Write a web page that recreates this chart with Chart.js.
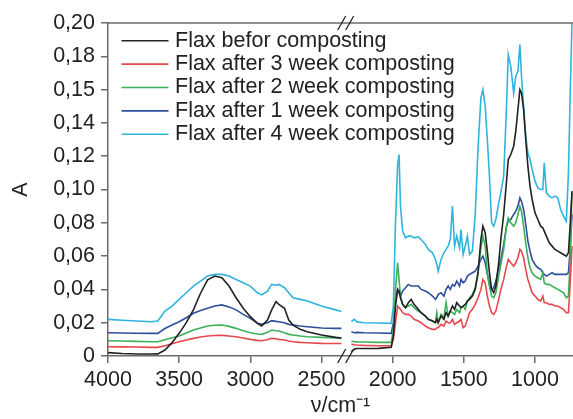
<!DOCTYPE html>
<html>
<head>
<meta charset="utf-8">
<script src="https://cdn.jsdelivr.net/npm/chart.js@4/dist/chart.umd.min.js"></script>
<style>
  body { margin: 0; background: #fff; }
</style>
</head>
<body>
<canvas id="chart1" width="573" height="419"></canvas>
<script>
// wavenumbers (cm-1), null point at 2330 is the axis break
const wavenumbers = [
    4000, 3900, 3800, 3700, 3650, 3600, 3550, 3500, 3450, 3400, 3350, 3300, 3250, 3200, 3150, 3100,
    3050, 3000, 2950, 2920, 2880, 2850, 2820, 2800, 2760, 2730, 2700, 2650, 2600, 2500, 2400, 2360,
    2330,
    2290, 2270, 2250, 2200, 2100, 2010,
    1995, 1980, 1965, 1955, 1945, 1930, 1910, 1890, 1870, 1850, 1820, 1800, 1770, 1750, 1720, 1700,
    1690, 1680, 1660, 1640, 1625, 1610, 1595, 1580, 1565, 1550, 1530, 1520, 1505, 1490, 1475, 1460,
    1440, 1420, 1400, 1380, 1366, 1350, 1335, 1320, 1305, 1290, 1275, 1255, 1240, 1220, 1200, 1188,
    1170, 1150, 1135, 1120, 1106, 1095, 1080, 1065, 1050, 1035, 1020, 1000, 980, 960, 945, 935,
    920, 900, 880, 860, 840, 820, 800, 780, 765, 752, 740
];

const before = [
    .002, .0015, .0012, .0012, .0013, .0036, .008, .0136, .020, .0277, .0377, .0457, .048, .047, .042, .035,
    .0287, .0236, .0196, .018, .0216, .0277, .0327, .031, .0287, .0216, .0186, .016, .0146, .0126, .0112, .0108,
    null,
    .0026, .004, .0045, .0045, .0046, .0052,
    .012, .030, .040, .039, .035, .031, .029, .032, .034, .031, .028, .026, .024, .022, .021, .020,
    .022, .020, .024, .022, .026, .024, .027, .030, .028, .032, .030, .029, .030, .031, .033, .034,
    .036, .040, .050, .070, .078, .074, .063, .050, .040, .038, .042, .056, .070, .085, .105, .118,
    .121, .126, .135, .148, .160, .158, .148, .130, .114, .102, .094, .086, .082, .078, .077, .075,
    .072, .068, .066, .064, .063, .062, .061, .060, .062, .080, .099
];

const week3 = [
    .0056, .0055, .0054, .0052, .0052, .0062, .0074, .0086, .0096, .0106, .0114, .012, .0123, .0124, .012, .0116,
    .0108, .010, .0094, .0092, .0098, .0106, .0104, .010, .0096, .009, .0086, .0082, .008, .0076, .0075, .0075,
    null,
    .0072, .0068, .0066, .0064, .0062, .0062,
    .010, .020, .030, .029, .028, .026, .025, .025, .024, .022, .021, .020, .018, .017, .016, .016,
    .017, .017, .019, .018, .021, .020, .020, .022, .019, .020, .021, .022, .017, .018, .022, .026,
    .028, .031, .035, .040, .046, .044, .036, .030, .026, .025, .027, .034, .040, .046, .054, .058,
    .056, .054, .056, .059, .064, .063, .059, .052, .046, .042, .038, .036, .034, .033, .036, .032,
    .032, .031, .031, .030, .030, .029, .028, .026, .026, .045, .066
];

const week2 = [
    .0092, .009, .0088, .0086, .0086, .0098, .011, .012, .0138, .0156, .0168, .018, .0185, .0186, .0178, .0166,
    .0152, .014, .0132, .013, .0142, .0156, .0152, .015, .014, .013, .0126, .012, .0116, .0112, .0108, .0106,
    null,
    .0090, .0086, .0085, .0084, .0082, .0082,
    .016, .040, .056, .046, .036, .031, .029, .030, .031, .029, .027, .026, .024, .022, .021, .020,
    .026, .020, .025, .023, .032, .024, .027, .026, .025, .028, .026, .029, .030, .028, .033, .035,
    .037, .041, .050, .065, .072, .066, .050, .042, .036, .035, .038, .048, .055, .064, .078, .083,
    .080, .078, .080, .085, .090, .087, .078, .068, .059, .053, .050, .048, .047, .046, .050, .044,
    .043, .043, .042, .041, .040, .039, .038, .035, .036, .060, .098
];

const week1 = [
    .014, .0138, .0137, .0136, .0136, .0165, .0186, .0206, .023, .0257, .0273, .0287, .030, .0307, .0295, .0277,
    .025, .0226, .0196, .019, .020, .0212, .0208, .0206, .020, .019, .0186, .018, .0176, .0168, .0166, .0166,
    null,
    .0146, .0140, .0142, .014, .0138, .0136,
    .020, .033, .040, .038, .036, .039, .041, .043, .042, .042, .042, .040, .039, .038, .036, .034,
    .035, .037, .038, .036, .040, .042, .040, .043, .042, .045, .042, .046, .044, .045, .048, .049,
    .050, .051, .054, .058, .060, .056, .049, .043, .040, .041, .045, .053, .058, .067, .078, .081,
    .082, .085, .087, .090, .095, .093, .088, .079, .069, .063, .058, .055, .053, .052, .050, .049,
    .048, .049, .050, .049, .049, .049, .049, .049, .050, .065, .085
];

const week4 = [
    .022, .0215, .021, .0206, .021, .027, .030, .034, .038, .042, .045, .048, .049, .049, .048, .046,
    .044, .042, .038, .0367, .039, .043, .0425, .043, .041, .038, .035, .034, .033, .030, .0277, .0267,
    null,
    .0206, .022, .0205, .020, .0198, .0196,
    .030, .080, .115, .121, .090, .075, .071, .072, .072, .071, .0715, .070, .067, .064, .062, .058,
    .055, .051, .058, .062, .064, .066, .070, .090, .066, .072, .065, .076, .061, .066, .072, .061,
    .063, .085, .125, .155, .160, .150, .130, .108, .080, .078, .082, .092, .098, .108, .150, .181,
    .174, .158, .168, .171, .187, .168, .150, .132, .122, .118, .112, .105, .101, .100, .100, .116,
    .098, .096, .095, .096, .095, .088, .084, .081, .110, .160, .200
];

const seriesNames = [
    'Flax befor composting',
    'Flax after 3 week composting',
    'Flax after 2 week composting',
    'Flax after 1 week composting',
    'Flax after 4 week composting'
];
const seriesColors = ['#222222', '#e5484d', '#3cb15a', '#2e4f9e', '#2fb4e0'];
const seriesValues = [before, week3, week2, week1, week4];

const xTicks = [4000, 3500, 3000, 2500, 2000, 1500, 1000];
const yTicks = [0, 0.02, 0.04, 0.06, 0.08, 0.10, 0.12, 0.14, 0.16, 0.18, 0.20];
const yTickLabels = ['0', '0,02', '0,04', '0,06', '0,08', '0,10', '0,12', '0,14', '0,15', '0,18', '0,20'];
const breakAt = 2330;

const axisColor = '#6b6b6b';
const fontFamily = '"Liberation Sans", Arial, sans-serif';
const fontSize = 21.5;

Chart.defaults.font.family = fontFamily;
Chart.defaults.font.size = fontSize;
Chart.defaults.color = '#222';

const ctx1 = document.getElementById('chart1').getContext('2d');

let chart = new Chart(ctx1, {
    type: 'line',
    data: {
        datasets: seriesValues.map((vals, i) => ({
            label: seriesNames[i],
            data: wavenumbers.map((w, j) => ({ x: w, y: vals[j] })),
            borderColor: seriesColors[i],
            borderWidth: 1.6,
            pointRadius: 0,
            tension: 0,
            spanGaps: false
        }))
    },
    options: {
        responsive: false,
        devicePixelRatio: 1,
        animation: false,
        layout: { padding: { top: 23, right: 0, left: 0, bottom: 0 } },
        scales: {
            x: {
                type: 'linear',
                reverse: true,
                min: 733,
                max: 4000,
                afterBuildTicks: (axis) => { axis.ticks = xTicks.map(v => ({ value: v })); },
                afterFit: (axis) => { axis.height = 63; },
                ticks: {
                    autoSkip: false,
                    maxRotation: 0,
                    padding: 4,
                    color: '#222',
                    callback: (v) => String(v)
                },
                grid: { drawOnChartArea: false, tickLength: 7, color: axisColor, lineWidth: 1.5 },
                border: { color: axisColor, width: 1.5 },
                title: { display: true, text: 'ν/cm⁻¹', color: '#222', padding: { top: 0, bottom: 0 } }
            },
            y: {
                min: 0,
                max: 0.2,
                afterBuildTicks: (axis) => { axis.ticks = yTicks.map(v => ({ value: v })); },
                afterFit: (axis) => { axis.width = 108; },
                ticks: {
                    padding: 6,
                    color: '#222',
                    callback: (v, i) => yTickLabels[i]
                },
                grid: { drawOnChartArea: false, tickLength: 7, color: axisColor, lineWidth: 1.5 },
                border: { color: axisColor, width: 1.5 },
                title: { display: true, text: 'A', color: '#222', padding: { top: 8, bottom: 0 } }
            }
        },
        plugins: {
            legend: { display: false },
            tooltip: { enabled: false }
        }
    },
    plugins: [{
        afterDraw: function(chart) {
            const ctx = chart.ctx;
            const area = chart.chartArea;
            const bx = chart.scales.x.getPixelForValue(breakAt);

            ctx.save();
            // top frame line
            ctx.strokeStyle = axisColor;
            ctx.lineWidth = 1.5;
            ctx.beginPath();
            ctx.moveTo(area.left, area.top);
            ctx.lineTo(area.right, area.top);
            ctx.stroke();

            // break marks
            ctx.strokeStyle = '#222';
            ctx.lineWidth = 1.3;
            [area.top, area.bottom].forEach(y => {
                [-4, 4].forEach(dx => {
                    ctx.beginPath();
                    ctx.moveTo(bx + dx - 4, y + 7);
                    ctx.lineTo(bx + dx + 4, y - 7);
                    ctx.stroke();
                });
            });

            // legend
            ctx.font = `${fontSize}px ${fontFamily}`;
            ctx.textAlign = 'left';
            ctx.textBaseline = 'middle';
            chart.data.datasets.forEach((ds, i) => {
                const y = 40.7 + i * 23.4;
                ctx.strokeStyle = ds.borderColor;
                ctx.lineWidth = 1.6;
                ctx.beginPath();
                ctx.moveTo(121.5, y);
                ctx.lineTo(168.5, y);
                ctx.stroke();
                ctx.fillStyle = '#222';
                ctx.fillText(ds.label, 175, y);
            });
            ctx.restore();
        }
    }]
});
</script>
</body>
</html>
